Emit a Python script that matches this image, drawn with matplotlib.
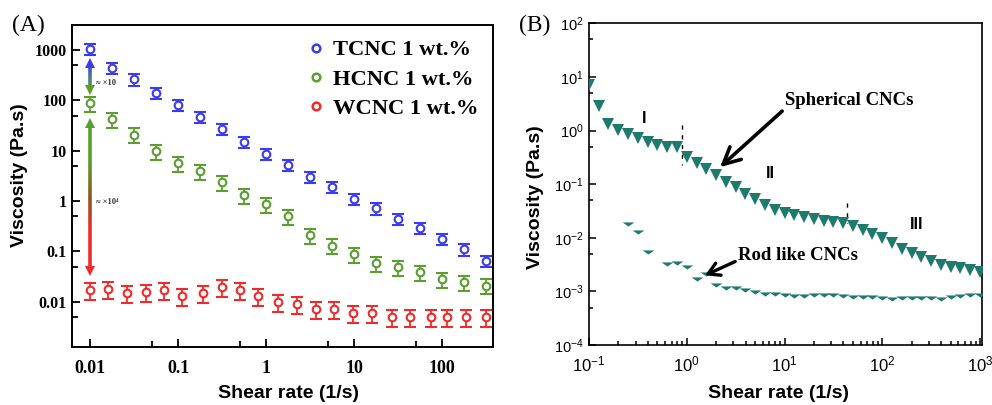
import numpy as np
import matplotlib
matplotlib.use("Agg")
import matplotlib.pyplot as plt
from matplotlib.collections import LineCollection
from matplotlib.colors import LinearSegmentedColormap
from matplotlib.lines import Line2D
from matplotlib import ticker

plt.rcParams['mathtext.default'] = 'regular'
plt.rcParams['font.family'] = ['Liberation Sans', 'DejaVu Sans']

SERIF = ['Liberation Serif', 'DejaVu Serif']
SANS = ['Liberation Sans', 'DejaVu Sans']

# ---- panel A data ----
rate_tg = [0.01, 0.0178, 0.0316, 0.0562, 0.1, 0.178, 0.316, 0.562, 1, 1.78,
           3.16, 5.62, 10, 17.8, 31.6, 56.2, 100, 178, 316]
tcnc = [1050, 447, 262, 142, 82, 47, 27, 15, 8.6, 5.2, 3.0, 1.9, 1.1, 0.72,
        0.44, 0.29, 0.18, 0.11, 0.066]
hcnc = [87, 42, 21, 10, 5.7, 3.9, 2.4, 1.3, 0.87, 0.51, 0.21, 0.13, 0.09,
        0.058, 0.048, 0.039, 0.028, 0.025, 0.021]
rate_w = [0.01, 0.016, 0.026, 0.043, 0.069, 0.11, 0.19, 0.32, 0.51, 0.81,
          1.37, 2.25, 3.7, 5.9, 9.8, 16, 27, 43, 75, 114, 187, 320]
wcnc = [0.017, 0.018, 0.015, 0.016, 0.017, 0.013, 0.015, 0.02, 0.017, 0.013,
        0.010, 0.009, 0.0072, 0.0072, 0.0061, 0.0061, 0.0051, 0.0051, 0.005,
        0.005, 0.005, 0.005]
tcnc_err_frac = 0.25
hcnc_err_frac = 0.33
wcnc_err_frac = 0.37

a_xticks = [0.01, 0.1, 1, 10, 100]
a_xlabels = ['0.01', '0.1', '1', '10', '100']
a_yticks = [0.01, 0.1, 1, 10, 100, 1000]
a_ylabels = ['0.01', '0.1', '1', '10', '100', '1000']

# ---- panel B data ----
rate_b = [0.1, 0.126, 0.158, 0.2, 0.251, 0.316, 0.398, 0.501, 0.631, 0.794,
          1, 1.26, 1.58, 2, 2.51, 3.16, 3.98, 5.01, 6.31, 7.94,
          10, 12.6, 15.8, 20, 25.1, 31.6, 39.8, 50.1, 63.1, 79.4,
          100, 126, 158, 200, 251, 316, 398, 501, 631, 794, 1000]
spherical = [7.06, 2.86, 1.34, 1.02, 0.85, 0.73, 0.62, 0.54, 0.49, 0.49,
             0.32, 0.25, 0.19, 0.146, 0.111, 0.089, 0.065, 0.053, 0.041, 0.033,
             0.0285, 0.0265, 0.024, 0.022, 0.0207, 0.0199, 0.0186, 0.0166,
             0.0139, 0.0116, 0.00975, 0.0079, 0.0063, 0.0052, 0.0043, 0.0037,
             0.0031, 0.0029, 0.0027, 0.0025, 0.0023]
rate_rod = [0.251, 0.316, 0.398, 0.631, 0.794,
            1, 1.26, 1.58, 2, 2.51, 3.16, 3.98, 5.01, 6.31, 7.94,
            10, 12.6, 15.8, 20, 25.1, 31.6, 39.8, 50.1, 63.1, 79.4,
            100, 126, 158, 200, 251, 316, 398, 501, 631, 794, 1000]
rodlike = [0.018, 0.0126, 0.0055, 0.0032, 0.0034, 0.0028, 0.0017, 0.0021,
           0.00131, 0.00114, 0.00114, 0.00106, 0.00098, 0.00089, 0.00088,
           0.00085, 0.00083, 0.00083, 0.00085, 0.00085, 0.00085, 0.00083,
           0.0008, 0.00078, 0.00078, 0.00075, 0.00073, 0.00075, 0.00075,
           0.00075, 0.00077, 0.00073, 0.0008, 0.00083, 0.00085, 0.00086]

b_xticks = [0.1, 1, 10, 100, 1000]
b_xlabels = ['$10^{-1}$', '$10^{0}$', '$10^{1}$', '$10^{2}$', '$10^{3}$']
b_yticks = [1e-4, 1e-3, 1e-2, 1e-1, 1, 10, 100]
b_ylabels = ['$10^{-4}$', '$10^{-3}$', '$10^{-2}$', '$10^{-1}$', '$10^{0}$',
             '$10^{1}$', '$10^{2}$']

BLUE = '#3b3bf0'
GREEN = '#5a9e2e'
RED = '#f02a2a'
TEAL = '#1f7a6e'


def grad_arrow(ax, x, y0, y1, colors, lw=2.6):
    ys = np.logspace(np.log10(y0), np.log10(y1), 80)
    pts = np.column_stack([np.full_like(ys, x), ys])
    segs = np.stack([pts[:-1], pts[1:]], axis=1)
    cmap = LinearSegmentedColormap.from_list('grad', colors)
    lc = LineCollection(segs, colors=cmap(np.linspace(0, 1, len(segs))),
                        linewidths=lw, zorder=4)
    ax.add_collection(lc)
    ax.plot(x, y0, marker='^', color=colors[0], ms=7, mew=0, zorder=5)
    ax.plot(x, y1, marker='v', color=colors[-1], ms=7, mew=0, zorder=5)


fig = plt.figure(figsize=(9.92, 4.05), dpi=100)

# ================= panel A =================
axA = fig.add_axes([0.0726, 0.143, 0.4244, 0.795])
axA.set_xscale('log')
axA.set_yscale('log')
for x, y, frac, col in [(rate_tg, tcnc, tcnc_err_frac, BLUE),
                        (rate_tg, hcnc, hcnc_err_frac, GREEN),
                        (rate_w, wcnc, wcnc_err_frac, RED)]:
    y = np.array(y)
    axA.errorbar(x, y, yerr=frac * y, fmt='o', ms=5.5, mfc='white', mec=col,
                 mew=1.5, ecolor=col, elinewidth=1.3, capsize=4.2,
                 capthick=1.3, zorder=3)

axA.set_xlim(0.00624, 380)
axA.set_ylim(0.00126, 3130)
axA.xaxis.set_major_locator(ticker.FixedLocator(a_xticks))
axA.xaxis.set_major_formatter(ticker.FixedFormatter(a_xlabels))
axA.yaxis.set_major_locator(ticker.FixedLocator(a_yticks))
axA.yaxis.set_major_formatter(ticker.FixedFormatter(a_ylabels))
axA.xaxis.set_minor_locator(ticker.LogLocator(base=10, subs=[5]))
axA.yaxis.set_minor_locator(ticker.LogLocator(base=10, subs=[5]))
axA.xaxis.set_minor_formatter(ticker.NullFormatter())
axA.yaxis.set_minor_formatter(ticker.NullFormatter())
axA.tick_params(which='both', direction='in', width=1.3)
axA.tick_params(which='major', length=6)
axA.tick_params(which='minor', length=4)
for lab in axA.get_xticklabels():
    lab.set_fontfamily(SERIF)
    lab.set_fontweight('bold')
    lab.set_fontsize(13)
for lab in axA.get_yticklabels():
    lab.set_fontfamily(SERIF)
    lab.set_fontweight('bold')
    lab.set_fontsize(11.5)
axA.tick_params(axis='x', pad=9)
axA.tick_params(axis='y', pad=4)
for sp in axA.spines.values():
    sp.set_linewidth(1.4)

grad_arrow(axA, 0.01, 552, 161, [BLUE, '#4a7a90', GREEN])
grad_arrow(axA, 0.01, 36, 0.041, [GREEN, GREEN, '#8a5a18', RED, RED])
axA.text(0.0117, 221, '≈ ×10', fontsize=6, fontweight='bold',
         family=SERIF, va='center', color='#333333')
axA.text(0.0117, 0.95, '≈ ×10⁴', fontsize=6, fontweight='bold',
         family=SERIF, va='center', color='#333333')

handles = [Line2D([], [], ls='none', marker='o', ms=5.5, mfc='white', mec=c,
                  mew=1.8) for c in (BLUE, GREEN, RED)]
axA.legend(handles, ['TCNC 1 wt.%', 'HCNC 1 wt.%', 'WCNC 1 wt.%'],
           loc='upper right', frameon=False, handlelength=0.6,
           handletextpad=0.45, labelspacing=0.38, borderaxespad=0.25,
           prop=dict(family=SERIF, weight='bold', size=16.2))

fig.text(288 / 992, 1 - 393 / 405, 'Shear rate (1/s)', ha='center',
         va='center', fontsize=14, fontweight='bold', family=SANS)
fig.text(20 / 992, 1 - 175 / 405, 'Viscosity (Pa.s)', ha='center',
         va='center', rotation=90, fontsize=14, fontweight='bold', family=SANS)
fig.text(28 / 992, 1 - 25 / 405, '(A)', ha='center', va='center',
         fontsize=17, family=SERIF)

# ================= panel B =================
axB = fig.add_axes([0.5938, 0.148, 0.3962, 0.7944])
axB.set_xscale('log')
axB.set_yscale('log')
axB.plot(rate_b, spherical, ls='none', marker='v', ms=8, color=TEAL,
         mew=0, zorder=3)
flat_tri = [(-1, 0.35), (1, 0.35), (0, -0.35), (-1, 0.35)]
axB.plot(rate_rod, rodlike, ls='none', marker=flat_tri, ms=8.5, color=TEAL,
         mew=0, zorder=3)
axB.set_xlim(0.1, 1050)
axB.set_ylim(1e-4, 1e2)
axB.xaxis.set_major_locator(ticker.FixedLocator(b_xticks))
axB.xaxis.set_major_formatter(ticker.FixedFormatter(b_xlabels))
axB.yaxis.set_major_locator(ticker.FixedLocator(b_yticks))
axB.yaxis.set_major_formatter(ticker.FixedFormatter(b_ylabels))
axB.xaxis.set_minor_locator(ticker.LogLocator(base=10, subs=np.arange(2, 10),
                                              numticks=20))
axB.yaxis.set_minor_locator(ticker.LogLocator(base=10, subs=[5], numticks=20))
axB.xaxis.set_minor_formatter(ticker.NullFormatter())
axB.yaxis.set_minor_formatter(ticker.NullFormatter())
axB.tick_params(which='both', direction='in', width=1.1)
axB.tick_params(which='major', length=5)
axB.tick_params(which='minor', length=3)
axB.tick_params(axis='x', labelsize=12, pad=7)
axB.tick_params(axis='y', labelsize=10.5, pad=4)
for sp in axB.spines.values():
    sp.set_linewidth(1.2)

# regime markers
axB.plot([0.89, 0.89], [1.27, 0.227], color='black', lw=1.0,
         ls=(0, (3, 4)), zorder=2)
axB.plot([43.7, 43.7], [0.0445, 0.0188], color='black', lw=1.0,
         ls=(0, (3, 4)), zorder=2)
for txt, x, y in [('I', 0.366, 1.71), ('II', 7.1, 0.161),
                  ('III', 226, 0.018)]:
    axB.text(x, y, txt, fontsize=11.5, fontweight='bold', family=SANS,
             ha='center', va='center')

axB.annotate('Spherical CNCs', xy=(2.19, 0.208), xytext=(10.1, 3.7),
             fontsize=13.5, fontweight='bold', family=SERIF, va='center',
             arrowprops=dict(arrowstyle='->,head_length=0.9,head_width=0.45',
                             lw=2.6, color='black', shrinkA=0, shrinkB=0,
                             relpos=(0, 0)))
axB.annotate('Rod like CNCs', xy=(1.54, 0.0020), xytext=(3.34, 0.00475),
             fontsize=13.5, fontweight='bold', family=SERIF, va='center',
             arrowprops=dict(arrowstyle='->,head_length=0.6,head_width=0.35',
                             lw=2.4, color='black', shrinkA=0, shrinkB=0,
                             relpos=(0, 0.2)))

fig.text(778 / 992, 1 - 393 / 405, 'Shear rate (1/s)', ha='center',
         va='center', fontsize=14, fontweight='bold', family=SANS)
fig.text(535 / 992, 1 - 197 / 405, 'Viscosity (Pa.s)', ha='center',
         va='center', rotation=90, fontsize=14, fontweight='bold', family=SANS)
fig.text(535 / 992, 1 - 25 / 405, '(B)', ha='center', va='center',
         fontsize=17, family=SERIF)

fig.savefig('out.png', dpi=100)
